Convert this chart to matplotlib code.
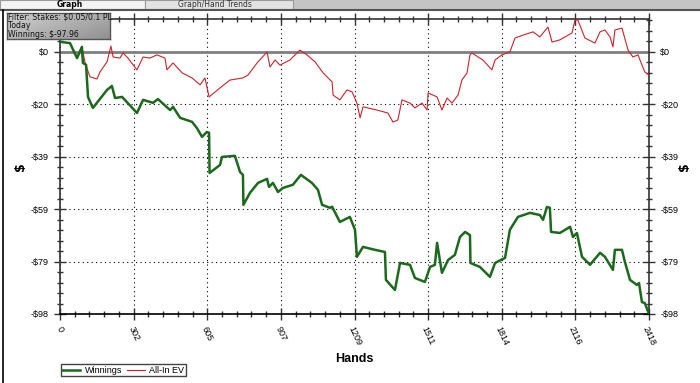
import numpy as np
import matplotlib
matplotlib.use("Agg")
import matplotlib.pyplot as plt
from matplotlib.patches import Rectangle
from matplotlib.lines import Line2D
from matplotlib.ticker import FixedLocator, MultipleLocator

# hands / dollars
win_hands = [0, 41, 70, 90, 94, 107, 115, 135, 193, 213, 226, 255, 316, 341, 382, 402,
             452, 464, 493, 542, 562, 583, 603, 612, 614, 657, 665, 718, 739, 751, 753,
             780, 813, 850, 858, 874, 895, 915, 956, 989, 1034, 1059, 1076, 1108, 1117,
             1149, 1190, 1211, 1219, 1244, 1293, 1334, 1338, 1375, 1396, 1437, 1457,
             1498, 1519, 1539, 1548, 1568, 1593, 1621, 1642, 1663, 1683, 1685, 1724,
             1765, 1786, 1827, 1847, 1880, 1929, 1970, 1983, 1999, 2011, 2016, 2052,
             2094, 2106, 2122, 2143, 2176, 2217, 2237, 2270, 2278, 2307, 2319, 2340,
             2368, 2377, 2389, 2401, 2418]
win_vals = [3.7, 3.2, -2.4, 1.8, -4.2, -4.9, -16.9, -21.0, -14.3, -12.8, -17.3, -16.9,
            -22.9, -18.0, -19.1, -17.7, -21.8, -20.6, -24.7, -26.2, -28.5, -31.8, -30.0,
            -30.3, -45.3, -42.3, -39.3, -38.9, -44.9, -46.0, -57.2, -52.7, -49.0, -47.5,
            -50.5, -49.0, -52.4, -50.9, -49.7, -46.0, -49.0, -51.6, -57.2, -58.3, -57.9,
            -63.6, -61.7, -66.5, -76.6, -72.9, -74.0, -74.8, -85.2, -89.0, -78.9, -79.6,
            -84.5, -86.0, -80.4, -79.6, -71.4, -82.6, -77.8, -75.9, -69.2, -67.3, -68.5,
            -78.9, -80.4, -84.1, -78.9, -77.0, -66.5, -61.7, -60.2, -61.0, -62.8, -58.0,
            -58.3, -67.3, -67.7, -65.4, -69.2, -67.7, -76.6, -79.6, -75.1, -76.6, -81.5,
            -74.0, -74.0, -78.5, -85.2, -87.1, -86.4, -93.5, -93.9, -97.96]

ev_hands = [0, 41, 70, 90, 103, 123, 152, 164, 193, 209, 218, 246, 259, 279, 316, 341,
            369, 398, 431, 439, 464, 501, 542, 575, 595, 612, 657, 698, 751, 772, 809,
            850, 862, 883, 903, 944, 985, 1014, 1047, 1080, 1117, 1121, 1149, 1178, 1199,
            1219, 1232, 1244, 1301, 1346, 1367, 1387, 1404, 1437, 1457, 1486, 1507, 1511,
            1548, 1568, 1589, 1609, 1634, 1650, 1671, 1683, 1691, 1736, 1773, 1786, 1814,
            1847, 1868, 1901, 1942, 1970, 2003, 2020, 2052, 2102, 2114, 2126, 2155, 2196,
            2217, 2237, 2258, 2270, 2278, 2307, 2332, 2352, 2373, 2389, 2401, 2418]
ev_vals = [3.7, 3.2, -2.4, 1.8, -4.2, -9.4, -10.2, -7.6, -3.8, 2.1, -2.0, -2.4, -0.5,
           -2.4, -6.8, -2.0, -2.4, -1.2, -2.4, -6.8, -4.2, -7.9, -9.8, -12.4, -9.8, -16.9,
           -13.5, -10.6, -9.8, -8.7, -4.2, -0.1, -5.7, -3.1, -5.0, -3.1, 0.6, -1.2, -3.8,
           -7.9, -11.3, -16.2, -18.0, -14.3, -15.0, -19.2, -24.7, -20.6, -21.8, -22.9,
           -26.3, -25.5, -18.0, -19.2, -21.0, -19.2, -21.8, -15.4, -16.9, -21.8, -17.3,
           -19.2, -16.2, -10.6, -7.9, -1.2, -0.5, -3.1, -6.8, -3.1, -1.2, -0.1, 5.1, 6.2,
           7.4, 5.5, 9.2, 3.6, 4.4, 7.0, 11.8, 11.8, 5.1, 3.2, 7.4, 8.1, 5.5, 1.8, 8.1,
           8.8, 0.6, -2.0, -1.2, -5.0, -7.6, -8.7]

total_hands = 2418
final_win = -97.96
x_tick_labels = ["0", "302", "605", "907", "1209", "1511", "1814", "2116", "2418"]
y_tick_labels = ["$0", "-$20", "-$39", "-$59", "-$79", "-$98"]

W, H = 700, 383
fig = plt.figure(figsize=(7, 3.83), dpi=100)
fig.patch.set_facecolor("white")

# tab strip at the very top
fig.patches.append(Rectangle((0, 1 - 9 / H), 1, 9 / H, transform=fig.transFigure,
                             facecolor="#c4c4c4", edgecolor="none"))
fig.patches.append(Rectangle((0, 1 - 9 / H), 145 / W, 9 / H, transform=fig.transFigure,
                             facecolor="#f4f4f4", edgecolor="#9a9a9a", lw=0.8))
fig.patches.append(Rectangle((145 / W, 1 - 9 / H), 148 / W, 9 / H, transform=fig.transFigure,
                             facecolor="#e2e2e2", edgecolor="#9a9a9a", lw=0.8))
fig.add_artist(Line2D([0, 1], [1 - 10 / H, 1 - 10 / H], transform=fig.transFigure,
                      color="#555555", lw=1.5))
fig.add_artist(Line2D([3 / W, 3 / W], [0, 1 - 10 / H], transform=fig.transFigure,
                      color="black", lw=1.2))
fig.text(70 / W, 1 - 4.5 / H, "Graph", fontsize=5.5, fontweight="bold",
         ha="center", va="center")
fig.text(215 / W, 1 - 4.5 / H, "Graph/Hand Trends", fontsize=5.5, ha="center",
         va="center", color="#333333")

ax = fig.add_axes([60 / W, 69 / H, 589 / W, 295 / H])
ax.set_xlim(0, total_hands)
ax.set_ylim(final_win, 12.2)

yt = [final_win * k / 5 for k in range(6)]
xt = [total_hands * k / 8 for k in range(9)]
ax.yaxis.set_major_locator(FixedLocator(yt))
ax.yaxis.set_minor_locator(MultipleLocator(-final_win / 25))
ax.xaxis.set_major_locator(FixedLocator(xt))
ax.xaxis.set_minor_locator(MultipleLocator(total_hands / 40))
ax.set_yticklabels(y_tick_labels)
ax.set_xticklabels(x_tick_labels, rotation=-65)

narrow = ["Liberation Sans Narrow", "Liberation Sans"]
ax.tick_params(which="both", direction="inout", top=True, right=True, labelright=True,
               color="#333333", width=1)
ax.tick_params(which="major", length=8, labelsize=6.5, pad=4)
ax.tick_params(which="minor", length=4)
for lab in ax.get_xticklabels() + ax.get_yticklabels():
    lab.set_family(narrow)
for t in ax.yaxis.get_major_ticks():
    t.label2.set_family(narrow)
    t.label2.set_fontsize(6.5)

for s in ax.spines.values():
    s.set_color("#333333")
    s.set_linewidth(1.2)
ax.spines["bottom"].set_color("black")

ax.grid(True, which="major", linestyle=(0, (1, 3)), color="black", lw=0.8)
ax.axhline(0, color="#7f7f7f", lw=2, zorder=2)

ax.plot(win_hands, win_vals, color="#1b6a1b", lw=1.8, zorder=4)
ax.plot(ev_hands, ev_vals, color="#cc2229", lw=0.8, zorder=3)

ax.set_xlabel("Hands", fontsize=9, fontweight="bold", family=narrow, labelpad=4)
ax.set_ylabel("$", fontsize=9, fontweight="bold", labelpad=3)
fig.text(685 / W, 1 - 167 / H, "$", fontsize=9, fontweight="bold", rotation=90,
         ha="center", va="center")

# info box with the filter text
bx = fig.add_axes([7 / W, 1 - 39 / H, 103 / W, 26 / H])
gx, gy = np.meshgrid(np.linspace(0, 1, 60), np.linspace(0, 1, 20))
bx.imshow(0.82 - 0.25 * (0.6 * gx + 0.4 * gy), cmap="gray", vmin=0, vmax=1,
          aspect="auto", extent=(0, 1, 0, 1), origin="upper")
bx.set_xlim(0, 1)
bx.set_ylim(0, 1)
bx.set_xticks([])
bx.set_yticks([])
for s in bx.spines.values():
    s.set_color("#555555")
    s.set_linewidth(1)
info = ["Filter: Stakes: $0.05/0.1 PL", "Today", "Winnings: $-97.96"]
for i, line in enumerate(info):
    bx.text(0.01, 0.83 - i * 0.33, line, fontsize=5.6, color="#111111",
            va="center", ha="left", family="DejaVu Sans")

handles = [Line2D([], [], color="#1b6a1b", lw=1.8), Line2D([], [], color="#cc2229", lw=0.8)]
leg = fig.legend(handles, ["Winnings", "All-In EV"], loc="lower left",
                 bbox_to_anchor=(56 / W, 2 / H), ncol=2, frameon=True,
                 fancybox=False, framealpha=1, edgecolor="#444444", borderpad=0.2,
                 handlelength=2.0, handletextpad=0.5, columnspacing=0.5,
                 prop={"family": narrow, "size": 6.5})
leg.get_frame().set_linewidth(1)

fig.savefig("out.png", dpi=100)
